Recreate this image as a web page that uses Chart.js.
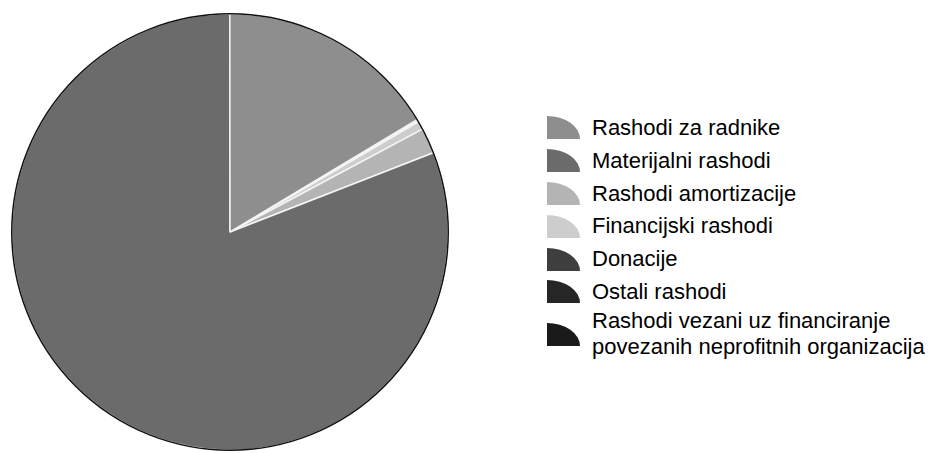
<!DOCTYPE html>
<html>
<head>
<meta charset="utf-8">
<script src="https://cdn.jsdelivr.net/npm/chart.js@4.4.1/dist/chart.umd.min.js"></script>
<style>
  html, body { margin: 0; padding: 0; background: #fff; }
  #wrap { position: relative; width: 933px; height: 453px; overflow: hidden; }
  #pie { position: absolute; left: 0; top: 0; width: 460px; height: 453px; }
  #legend {
    position: absolute; left: 547px; top: 111.6px; margin: 0; padding: 0;
    list-style: none; font-family: "Liberation Sans", Arial, sans-serif;
    font-size: 22px; color: #000;
  }
  #legend li { display: flex; align-items: center; min-height: 32.8px; }
  #legend .icon {
    width: 33px; height: 23px; margin-right: 12px; flex: none;
    border-top-right-radius: 100% 100%;
  }
  #legend .txt { white-space: pre-line; line-height: 26px; }
</style>
</head>
<body>
<div id="wrap">
  <div id="pie"><canvas id="expenses"></canvas></div>
  <ul id="legend"></ul>
</div>
<script>
const categories = [
  'Rashodi za radnike',
  'Materijalni rashodi',
  'Rashodi amortizacije',
  'Financijski rashodi',
  'Donacije',
  'Ostali rashodi',
  'Rashodi vezani uz financiranje\npovezanih neprofitnih organizacija'
];
// share of total, %
const shares = [16.4, 80.9, 1.9, 0.6, 0.1, 0.1, 0.0];
const colors = ['#8e8e8e', '#6b6b6b', '#b4b4b4', '#cdcdcd', '#3e3e3e', '#262626', '#1a1a1a'];

// slices run counter-clockwise in the original, so feed them reversed
const order = categories.map((c, i) => i).reverse();

const outline = {
  id: 'outline',
  afterDatasetsDraw(chart) {
    const arc = chart.getDatasetMeta(0).data[0];
    if (!arc) {
      return;
    }
    const ctx = chart.ctx;
    ctx.save();
    ctx.beginPath();
    ctx.arc(arc.x, arc.y, arc.outerRadius, 0, Math.PI * 2);
    ctx.lineWidth = 1.5;
    ctx.strokeStyle = '#111';
    ctx.stroke();
    ctx.restore();
  }
};

new Chart(document.getElementById('expenses'), {
  type: 'pie',
  data: {
    labels: order.map((i) => categories[i]),
    datasets: [{
      data: order.map((i) => shares[i]),
      backgroundColor: order.map((i) => colors[i]),
      borderColor: '#f4f4f4',
      borderWidth: 1.5
    }]
  },
  options: {
    responsive: true,
    maintainAspectRatio: false,
    animation: false,
    rotation: 59,
    layout: {
      padding: { top: 13, bottom: 2 }
    },
    plugins: {
      legend: { display: false },
      tooltip: { enabled: false }
    }
  },
  plugins: [outline]
});

const legend = document.getElementById('legend');
categories.forEach((name, i) => {
  const li = document.createElement('li');
  const icon = document.createElement('span');
  icon.className = 'icon';
  icon.style.background = colors[i];
  const txt = document.createElement('span');
  txt.className = 'txt';
  txt.textContent = name;
  li.appendChild(icon);
  li.appendChild(txt);
  legend.appendChild(li);
});
</script>
</body>
</html>
